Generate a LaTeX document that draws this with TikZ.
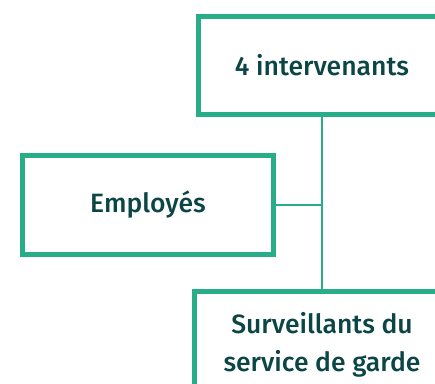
\documentclass[tikz,border=0pt]{standalone}
\usepackage{fontspec}
\setmainfont{Fira Sans}[BoldFont={Fira Sans Medium}]
\definecolor{boxgreen}{HTML}{27AE88}
\definecolor{txtteal}{HTML}{0B4545}
\begin{document}
\begin{tikzpicture}[x=1pt,y=1pt,
  orgbox/.style={draw=boxgreen, line width=5pt, fill=white, inner sep=0pt,
    text=txtteal, font=\fontsize{26.5}{38}\selectfont\bfseries, align=center},
  link/.style={draw=boxgreen, line width=2.5pt}]
\useasboundingbox (0,0) rectangle (435,383);
\clip (0,0) rectangle (435,383);
\node[orgbox, minimum width=247pt, minimum height=98pt] (top) at (322,317.5) {4 intervenants};
\node[orgbox, minimum width=251pt, minimum height=99pt] (emp) at (148,178) {Employés};
\node[orgbox, minimum width=255pt, minimum height=106pt] (bot) at (322,38.5) {Surveillants du\\service de garde};
\coordinate (j) at (322,178);
\draw[link] (top.south) -- (bot.north);
\draw[link] (emp.east) -- (j);
\end{tikzpicture}
\end{document}
